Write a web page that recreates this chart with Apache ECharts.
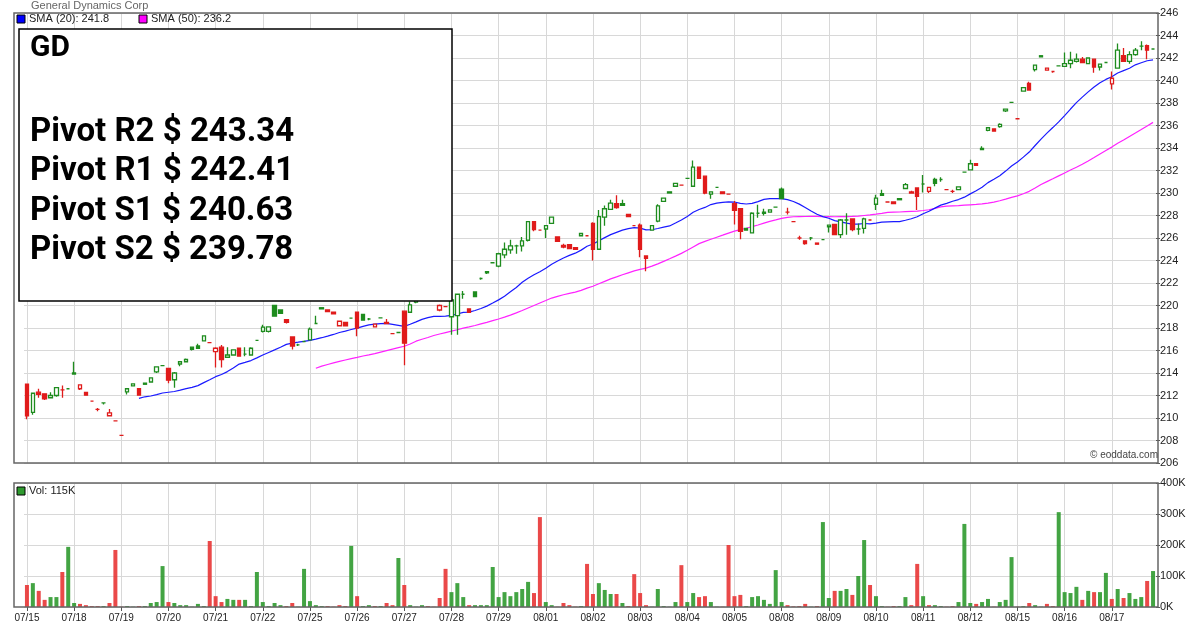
<!DOCTYPE html>
<html><head><meta charset="utf-8">
<script src="https://cdn.jsdelivr.net/npm/echarts@6/dist/echarts.min.js"></script>
<style>html,body{margin:0;padding:0;background:#fff}#c{width:1200px;height:628px}</style>
</head><body><div id="c"></div>
<script>
const days = ['07/15','07/18','07/19','07/20','07/21','07/22','07/25','07/26','07/27','07/28','07/29','08/01','08/02','08/03','08/04','08/05','08/08','08/09','08/10','08/11','08/12','08/15','08/16','08/17'];
const barsPerDay = 8;
const pivotLines = ['Pivot R2 $ 243.34','Pivot R1 $ 242.41','Pivot S1 $ 240.63','Pivot S2 $ 239.78'];
const open = [
213.0,210.5,212.3,212.15,211.8,212.0,212.5,212.6,
213.9,212.6,212.27,211.5,210.76,211.35,210.2,209.75,
208.45,212.33,212.86,212.62,213.1,213.2,214.1,214.65,
214.4,213.4,214.8,215.0,216.3,216.4,216.85,216.7,
215.9,216.3,215.4,215.6,216.2,215.67,215.6,216.9,
217.7,217.7,220.0,219.6,218.75,217.2,216.5,216.8,
216.95,218.4,219.8,219.6,219.4,218.2,218.5,218.87,
219.4,219.2,218.8,218.1,218.9,218.5,217.5,217.6,
219.5,219.4,220.3,220.8,221.2,220.9,219.6,219.9,
219.0,219.1,221.0,219.7,221.2,222.4,223.0,223.8,
223.5,224.5,224.95,225.3,225.3,225.8,227.45,226.7,
226.8,227.3,226.1,225.35,225.4,225.15,226.2,226.2,
227.3,225.0,227.85,228.55,229.05,229.05,228.1,227.1,
227.15,224.4,226.7,227.5,229.25,230.1,230.6,230.7,
231.3,230.6,232.3,231.5,229.9,230.5,230.1,229.9,
229.05,228.6,226.85,226.45,228.2,228.3,228.3,228.75,
230.35,228.3,227.45,226.0,225.75,226.0,225.55,225.85,
227.0,227.2,226.3,227.6,227.7,226.8,226.85,227.6,
229.0,229.95,229.2,229.2,229.5,230.4,230.0,230.45,
230.8,230.15,231.2,231.2,230.3,230.15,230.3,231.85,
232.05,232.6,233.97,235.57,235.7,235.9,237.3,238.05,
236.6,239.06,239.75,240.96,242.2,240.93,240.8,241.3,
241.25,241.5,241.7,241.9,241.5,241.9,241.2,241.6,
239.7,241.1,242.2,241.7,242.3,243.05,243.1,242.8];
const close = [
210.2,212.2,212.1,211.7,212.0,212.7,212.5,212.6,
214.0,212.95,212.03,211.5,210.76,211.35,210.45,209.75,
208.45,212.6,213.03,212.03,213.0,213.57,214.55,214.65,
213.36,214.0,215.0,215.2,216.1,216.2,217.3,216.7,
216.2,215.2,215.6,216.05,215.5,215.67,216.2,216.9,
218.07,218.1,219.05,219.3,218.5,216.4,216.5,216.8,
217.9,218.4,219.7,219.45,219.25,218.6,218.2,218.87,
218.0,218.7,218.8,218.35,218.9,218.4,217.5,217.6,
216.65,220.05,220.8,221.2,220.9,220.6,220.0,219.9,
220.5,221.0,221.0,219.4,220.8,222.4,222.9,223.8,
224.6,225.0,225.3,225.3,225.75,227.45,226.75,226.7,
227.1,227.85,225.7,225.2,225.05,225.0,226.4,226.2,
225.0,227.9,228.6,229.1,228.7,228.9,227.9,227.1,
225.0,224.2,227.1,228.85,229.55,230.0,230.85,230.7,
231.3,232.3,231.3,230.0,230.1,230.5,229.95,229.9,
228.45,226.6,226.7,228.2,228.2,228.2,228.5,228.75,
229.5,228.3,227.45,226.0,225.5,226.0,225.45,225.85,
227.15,226.3,227.6,227.6,226.75,226.8,227.7,227.6,
229.55,229.8,229.2,229.05,229.4,230.75,230.1,229.7,
230.8,230.5,230.85,231.2,230.3,230.15,230.55,231.85,
232.6,232.45,233.85,235.8,235.5,236.1,237.45,238.05,
236.6,239.36,239.15,241.37,242.1,241.1,240.8,241.3,
241.5,241.8,241.9,241.6,242.0,241.2,241.45,241.6,
240.2,242.7,241.7,242.3,242.7,243.05,242.7,242.8];
// wick extremes; null = wick ends at the body
const low = [
209.9,210.3,211.8,211.6,null,211.9,211.8,null,
null,212.5,212.0,211.45,210.6,211.2,null,null,
null,212.1,null,null,null,null,214.0,null,
213.1,212.7,214.6,null,216.0,null,null,null,
214.5,214.5,null,null,null,215.5,null,null,
217.6,217.6,null,null,218.4,216.1,216.4,null,
null,null,null,null,null,null,null,null,
217.27,null,218.7,null,218.85,null,217.45,null,
214.7,null,220.2,220.7,220.8,220.5,219.5,null,
217.4,217.4,220.6,null,null,222.3,222.8,null,
223.4,224.2,224.6,224.6,224.8,225.7,226.6,null,
226.0,null,null,225.1,225.0,null,null,null,
224.0,null,227.1,null,228.6,null,null,null,
224.3,223.05,null,227.4,null,null,null,null,
null,null,null,229.9,229.5,null,null,null,
227.2,225.9,null,null,227.8,228.0,null,null,
null,228.1,null,225.85,225.4,225.8,null,null,
226.5,null,226.0,226.3,226.6,226.3,226.4,null,
228.5,null,null,null,null,null,null,228.5,
230.05,230.0,230.6,231.0,null,230.0,null,null,
232.0,null,233.8,235.5,null,235.8,237.2,null,
null,null,null,240.8,null,240.9,240.7,null,
241.2,241.1,241.6,null,null,240.7,240.9,null,
239.2,null,null,241.5,242.2,242.7,241.9,null];
const high = [
null,null,212.6,null,212.3,null,212.9,null,
215.0,null,212.3,211.55,210.9,211.4,210.8,null,
null,null,null,null,null,213.6,null,null,
null,214.1,null,215.3,null,216.6,null,null,
216.3,216.5,216.3,null,null,216.3,216.3,null,
218.3,null,null,null,null,null,216.6,null,
218.05,219.1,null,219.65,219.45,null,null,null,
null,null,218.9,null,218.95,218.8,217.55,null,
null,220.35,221.0,221.4,221.4,221.0,220.1,null,
220.7,null,221.3,null,null,222.5,null,null,
224.7,225.6,225.85,225.4,226.1,null,null,null,
null,227.9,null,225.5,null,null,null,null,
227.4,228.5,228.9,229.4,229.8,229.4,null,null,
227.3,null,null,229.0,null,null,null,null,
null,232.9,null,null,null,null,null,null,
229.3,null,null,228.3,228.95,228.6,null,null,
230.5,228.7,null,226.2,null,226.1,null,null,
227.2,null,227.7,228.2,null,227.3,227.8,null,
229.85,230.3,null,null,null,230.9,230.2,null,
231.6,null,231.35,231.4,null,230.3,230.6,null,
232.95,null,234.15,null,null,236.2,null,null,
null,null,239.9,null,null,241.15,null,null,
242.5,242.55,242.4,242.1,null,null,null,null,
240.8,243.3,242.9,242.6,242.9,243.5,243.2,null];
const volumeK = [
71,77,52,23,32,32,113,194,
13,10,6,3,3,3,13,184,
1,3,1,3,3,13,16,132,
16,13,6,6,1,10,3,213,
35,16,26,23,23,23,3,113,
16,3,13,6,3,13,1,123,
19,6,3,3,1,6,3,197,
35,3,6,3,3,13,6,158,
71,6,1,6,3,1,29,123,
48,77,32,6,6,6,6,129,
32,48,35,48,58,81,45,290,
16,6,1,13,6,1,3,139,
42,77,55,42,42,13,3,106,
45,6,1,58,3,1,16,135,
16,45,32,35,16,1,1,200,
35,39,3,32,35,23,10,119,
16,6,2,3,10,1,3,274,
29,52,52,58,39,100,216,71,
35,3,1,3,3,32,6,139,
35,6,6,3,1,3,16,268,
13,10,16,26,1,16,23,161,
1,3,13,6,1,10,3,306,
48,45,65,23,52,48,48,110,
26,58,29,45,26,32,84,116];

const GREEN = '#1e8c1e', RED = '#e01b1b';
const n = open.length;
const cats = [];
for (let d = 0; d < days.length; d++) for (let k = 0; k < barsPerDay; k++) cats.push(days[d] + '#' + k);

const candleData = [], volData = [];
for (let i = 0; i < n; i++) {
  const o = open[i], c = close[i];
  const l = low[i] == null ? Math.min(o, c) : low[i];
  const h = high[i] == null ? Math.max(o, c) : high[i];
  const up = i === 0 ? c >= o : c >= close[i - 1];
  const col = up ? GREEN : RED;
  const hollow = c > o;
  candleData.push({ value: [o, c, l, h], itemStyle: {
    color: hollow ? '#fff' : col, color0: hollow ? '#fff' : col,
    borderColor: col, borderColor0: col, borderWidth: 1.3 } });
  volData.push({ value: volumeK[i] * 1000, itemStyle: { color: up ? '#2f9a2f' : '#e83535', opacity: 0.9 } });
}
function sma(p) {
  return close.map((v, i) => {
    if (i < p - 1) return null;
    let s = 0; for (let j = i - p + 1; j <= i; j++) s += close[j];
    return +(s / p).toFixed(3);
  });
}
const sma20 = sma(20), sma50 = sma(50);

const chart = echarts.init(document.getElementById('c'));
const isDayStart = (i) => i % barsPerDay === 0;
const font = 'Arial, "Liberation Sans", sans-serif';
chart.setOption({
  animation: false,
  textStyle: { fontFamily: font },
  grid: [
    { left: 24, right: 44, top: 13, height: 450 },
    { left: 24, right: 44, top: 483, height: 124 }
  ],
  xAxis: [
    { type: 'category', data: cats, gridIndex: 0, boundaryGap: true,
      axisLine: { show: false }, axisTick: { show: false }, axisLabel: { show: false },
      splitLine: { show: true, alignWithLabel: true, interval: (i) => isDayStart(i), lineStyle: { color: '#d8d8d8' } } },
    { type: 'category', data: cats, gridIndex: 1, boundaryGap: true,
      axisLine: { show: false },
      axisTick: { show: true, alignWithLabel: true, interval: (i) => isDayStart(i), length: 4, lineStyle: { color: '#555' } },
      axisLabel: { interval: (i) => isDayStart(i), formatter: (v) => v.split('#')[0], fontSize: 10, color: '#222', margin: 6, fontFamily: font },
      splitLine: { show: true, alignWithLabel: true, interval: (i) => isDayStart(i), lineStyle: { color: '#d8d8d8' } } }
  ],
  yAxis: [
    { type: 'value', gridIndex: 0, position: 'right', min: 206, max: 246, interval: 2, scale: true,
      axisLine: { show: false }, axisTick: { show: true, length: 4, lineStyle: { color: '#555' } },
      axisLabel: { fontSize: 11, color: '#222', margin: 4, fontFamily: font },
      splitLine: { lineStyle: { color: '#d8d8d8' } } },
    { type: 'value', gridIndex: 1, position: 'right', min: 0, max: 400000, interval: 100000,
      axisLine: { show: false }, axisTick: { show: true, length: 4, lineStyle: { color: '#555' } },
      axisLabel: { fontSize: 11, color: '#222', margin: 4, formatter: (v) => (v / 1000) + 'K', fontFamily: font },
      splitLine: { lineStyle: { color: '#d8d8d8' } } }
  ],
  series: [
    { type: 'line', data: sma50, xAxisIndex: 0, yAxisIndex: 0, symbol: 'none', lineStyle: { color: '#ff22ff', width: 1.2 }, z: 2 },
    { type: 'line', data: sma20, xAxisIndex: 0, yAxisIndex: 0, symbol: 'none', lineStyle: { color: '#1a1aff', width: 1.2 }, z: 2 },
    { type: 'candlestick', data: candleData, xAxisIndex: 0, yAxisIndex: 0, barWidth: 4, z: 3 },
    { type: 'bar', data: volData, xAxisIndex: 1, yAxisIndex: 1, barWidth: 4 }
  ],
  graphic: [
    { type: 'rect', shape: { x: 14, y: 13, width: 1144, height: 450 }, style: { fill: 'none', stroke: '#666', lineWidth: 1.5 }, z: 50 },
    { type: 'rect', shape: { x: 14, y: 483, width: 1144, height: 124 }, style: { fill: 'none', stroke: '#666', lineWidth: 1.5 }, z: 50 },
    { type: 'text', left: 31, top: 0, style: { text: 'General Dynamics Corp', fill: '#666', font: '11px ' + font }, z: 60 },
    { type: 'rect', shape: { x: 17, y: 15, width: 8, height: 8 }, style: { fill: '#0000ff', stroke: '#000' }, z: 60 },
    { type: 'text', left: 29, top: 13, style: { text: 'SMA (20): 241.8', fill: '#222', font: '11px ' + font }, z: 60 },
    { type: 'rect', shape: { x: 139, y: 15, width: 8, height: 8 }, style: { fill: '#ff00ff', stroke: '#000' }, z: 60 },
    { type: 'text', left: 151, top: 13, style: { text: 'SMA (50): 236.2', fill: '#222', font: '11px ' + font }, z: 60 },
    { type: 'rect', shape: { x: 19, y: 29, width: 433, height: 272 }, style: { fill: '#fff', stroke: '#000', lineWidth: 1.5 }, z: 70 },
    { type: 'text', left: 30, top: 33, style: { text: 'GD', fill: '#000', font: 'bold 30px Roboto' }, z: 71 },
    ...pivotLines.map((t, k) => ({ type: 'text', left: 30, top: 116 + k * 39.5, style: { text: t, fill: '#000', font: 'bold 33px Roboto' }, z: 71 })),
    { type: 'text', left: 1090, top: 450, style: { text: '© eoddata.com', fill: '#444', font: '10px ' + font }, z: 60 },
    { type: 'rect', shape: { x: 17, y: 487, width: 8, height: 8 }, style: { fill: '#2f9a2f', stroke: '#000' }, z: 60 },
    { type: 'text', left: 29, top: 485, style: { text: 'Vol: 115K', fill: '#222', font: '11px ' + font }, z: 60 }
  ]
});
</script></body></html>
